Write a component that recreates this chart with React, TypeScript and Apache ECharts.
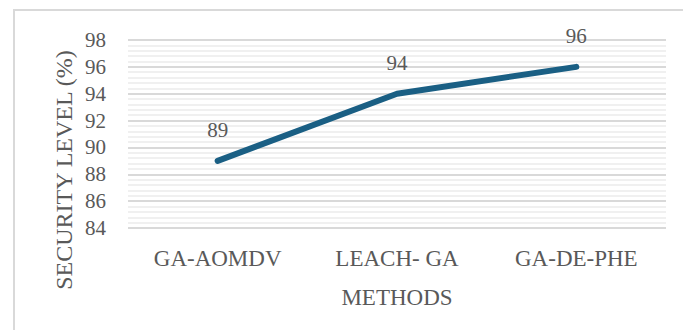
import React, { useEffect, useRef } from "react";
import * as echarts from "echarts";

const methods = ["GA-AOMDV", "LEACH- GA", "GA-DE-PHE"];
const securityLevel = [89, 94, 96];
const yMin = 84;
const yMax = 98;
const yStep = 2;

const SERIF = "Liberation Serif";
const TEXT = "#595959";

export default function App() {
  const ref = useRef<HTMLDivElement>(null);

  useEffect(() => {
    document.body.style.margin = "0";
    if (!ref.current) return;
    const chart = echarts.init(ref.current, undefined, { renderer: "svg" });
    chart.setOption({
      animation: false,
      backgroundColor: "#ffffff",
      textStyle: { fontFamily: SERIF },
      grid: { left: 128, right: 17, top: 40, bottom: 102 },
      graphic: [
        {
          type: "rect",
          shape: { x: 14, y: 10, width: 720, height: 400 },
          style: { fill: "none", stroke: "#d9d9d9", lineWidth: 2 },
          silent: true,
          z: -1,
        },
        {
          type: "text",
          x: 64,
          y: 170,
          rotation: Math.PI / 2,
          style: {
            text: "SECURITY LEVEL (%)",
            fontFamily: SERIF,
            fontSize: 24,
            fill: TEXT,
            align: "center",
            verticalAlign: "middle",
          },
        },
      ],
      xAxis: {
        type: "category",
        data: methods,
        boundaryGap: true,
        name: "METHODS",
        nameLocation: "middle",
        nameGap: 58,
        nameTextStyle: { fontFamily: SERIF, fontSize: 23, color: TEXT },
        axisLine: { show: false },
        axisTick: { show: false },
        axisLabel: {
          margin: 19,
          fontFamily: SERIF,
          fontSize: 23,
          color: TEXT,
        },
      },
      yAxis: {
        type: "value",
        min: yMin,
        max: yMax,
        interval: yStep,
        axisLine: { show: false },
        axisTick: { show: false },
        axisLabel: {
          margin: 22,
          fontFamily: SERIF,
          fontSize: 21,
          color: TEXT,
        },
        splitLine: { lineStyle: { color: "#d9d9d9", width: 2 } },
        minorTick: { show: false, splitNumber: 5 },
        minorSplitLine: { show: true, lineStyle: { color: "#f0f0f0", width: 2 } },
      },
      series: [
        {
          type: "line",
          data: securityLevel,
          symbol: "circle",
          symbolSize: 0,
          showSymbol: true,
          itemStyle: { color: "#1a5f84" },
          lineStyle: { color: "#1a5f84", width: 6, cap: "round", join: "round" },
          label: {
            show: true,
            position: "top",
            distance: 20,
            fontFamily: SERIF,
            fontSize: 21,
            color: TEXT,
          },
        },
      ],
    });
    return () => chart.dispose();
  }, []);

  return <div ref={ref} style={{ width: 683, height: 330 }} />;
}
